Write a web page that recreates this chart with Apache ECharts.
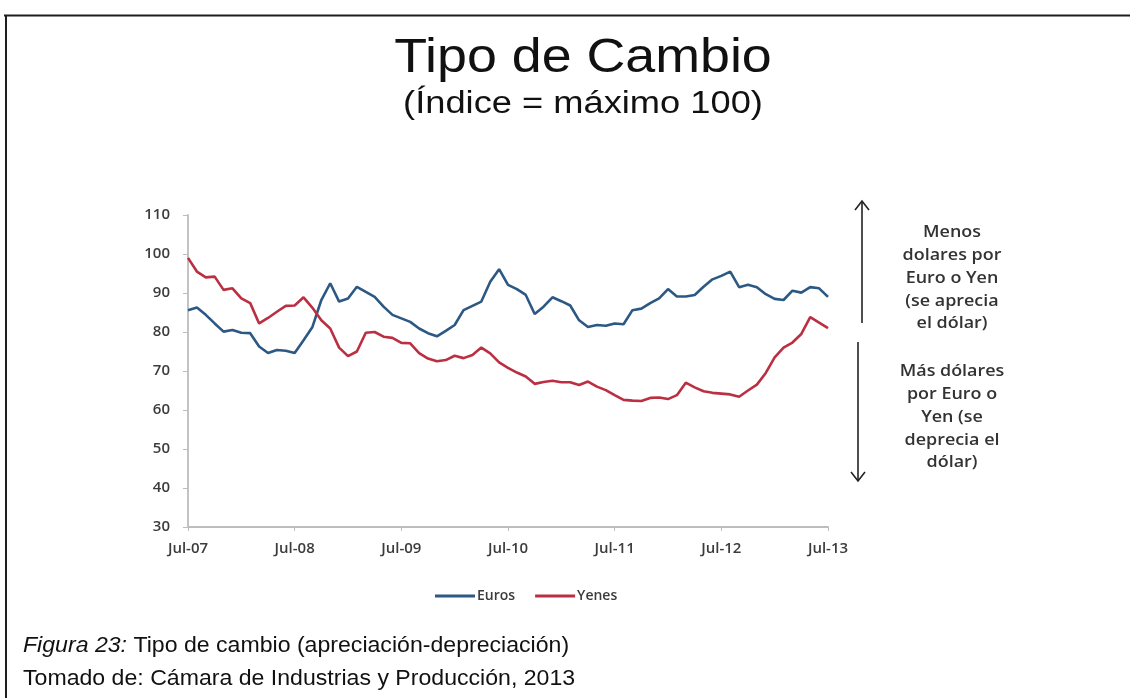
<!DOCTYPE html>
<html>
<head>
<meta charset="utf-8">
<title>Tipo de Cambio</title>
<script src="https://cdn.jsdelivr.net/npm/echarts@6/dist/echarts.min.js"></script>
<style>
  html, body { margin: 0; padding: 0; background: #fff; }
  #chart { width: 1130px; height: 698px; }
</style>
</head>
<body>
<div id="chart"></div>
<script>
// monthly series, Jul-07 .. Jul-13 (73 points)
const monthNames = ['Jul', 'Aug', 'Sep', 'Oct', 'Nov', 'Dec', 'Jan', 'Feb', 'Mar', 'Apr', 'May', 'Jun']
const startYear = 7
const pointCount = 73

const euros = [
  85.6, 86.3, 84.4, 82.2, 80.1, 80.5, 79.8, 79.7, 76.3, 74.6, 75.4, 75.2,
  74.6, 77.9, 81.3, 88.2, 92.5, 87.8, 88.6, 91.6, 90.3, 89.0, 86.5, 84.4,
  83.5, 82.6, 80.9, 79.7, 78.9, 80.3, 81.8, 85.6, 86.7, 87.8, 92.9, 96.1,
  92.1, 91.0, 89.5, 84.6, 86.5, 88.9, 87.9, 86.8, 83.0, 81.3, 81.8, 81.6,
  82.2, 82.0, 85.6, 86.0, 87.4, 88.6, 91.0, 89.1, 89.1, 89.5, 91.6, 93.5,
  94.4, 95.5, 91.5, 92.1, 91.5, 89.7, 88.5, 88.2, 90.6, 90.1, 91.5, 91.2,
  89.0
]

const yenes = [
  99.0, 95.5, 94.0, 94.2, 90.8, 91.2, 88.6, 87.4, 82.2, 83.6, 85.2, 86.7,
  86.8, 88.9, 86.2, 83.0, 80.9, 76.0, 73.8, 75.0, 79.8, 80.0, 78.8, 78.5,
  77.2, 77.1, 74.6, 73.2, 72.5, 72.8, 73.9, 73.3, 74.1, 76.0, 74.5, 72.2,
  70.8, 69.6, 68.6, 66.7, 67.2, 67.5, 67.1, 67.1, 66.4, 67.3, 66.0, 65.1,
  63.8, 62.6, 62.4, 62.3, 63.1, 63.2, 62.8, 63.8, 67.0, 65.8, 64.8, 64.4,
  64.2, 64.0, 63.4, 65.0, 66.5, 69.5, 73.5, 76.0, 77.3, 79.5, 83.8, 82.4,
  81.0
]

const seriesNames = ['Euros', 'Yenes']
const upNote = ['Menos', 'dolares por', 'Euro o Yen', '(se aprecia', 'el dólar)']
const downNote = ['Más dólares', 'por Euro o', 'Yen (se', 'deprecia el', 'dólar)']

const categories = []
for (let i = 0; i < pointCount; i++) {
  const yy = startYear + Math.floor((i + 6) / 12)
  categories.push(monthNames[i % 12] + '-' + String(yy).padStart(2, '0'))
}

const chart = echarts.init(document.getElementById('chart'), null, { renderer: 'canvas' })

const labelFont = { fontFamily: 'Open Sans', fontSize: 15, fontWeight: 600, color: '#3c3c3c' }
const noteStyle = { fontFamily: 'Open Sans', fontSize: 16, fontWeight: 600, fill: '#333', textAlign: 'center', lineHeight: 22.75 }
const arrowStyle = { stroke: '#222', lineWidth: 1.6, fill: 'none' }
const stretch = 1.12

chart.setOption({
  animation: false,
  backgroundColor: '#fff',
  grid: { left: 188, right: 302, top: 215, bottom: 171 },
  legend: {
    data: seriesNames,
    left: 430,
    top: 584,
    icon: 'rect',
    itemWidth: 40,
    itemHeight: 3,
    itemGap: 20,
    textStyle: { fontFamily: 'Open Sans', fontSize: 14, fontWeight: 600, color: '#3c3c3c', padding: [0, 0, 0, -3] },
  },
  xAxis: {
    type: 'category',
    data: categories,
    boundaryGap: false,
    axisLine: { lineStyle: { color: '#bdbdbd', width: 1.8 } },
    axisTick: { interval: 11, length: 4, lineStyle: { color: '#bdbdbd' } },
    axisLabel: { interval: 11, margin: 14, ...labelFont },
    splitLine: { show: false },
  },
  yAxis: {
    type: 'value',
    min: 30,
    max: 110,
    interval: 10,
    axisLine: { show: true, lineStyle: { color: '#bdbdbd', width: 1.8 } },
    axisTick: { show: true, length: 5, lineStyle: { color: '#bdbdbd' } },
    axisLabel: { margin: 18, ...labelFont },
    splitLine: { show: false },
  },
  series: [
    {
      name: seriesNames[0],
      type: 'line',
      data: euros,
      showSymbol: false,
      lineStyle: { color: '#2c5884', width: 2.6 },
      itemStyle: { color: '#2c5884' },
    },
    {
      name: seriesNames[1],
      type: 'line',
      data: yenes,
      showSymbol: false,
      lineStyle: { color: '#ba2f42', width: 2.6 },
      itemStyle: { color: '#ba2f42' },
    },
  ],
  graphic: [
    // frame
    { type: 'line', shape: { x1: 4, y1: 15.5, x2: 1130, y2: 15.5 }, style: { stroke: '#1e1e1e', lineWidth: 2 } },
    { type: 'line', shape: { x1: 6, y1: 15, x2: 6, y2: 698 }, style: { stroke: '#1e1e1e', lineWidth: 2 } },
    // titles
    { type: 'text', x: 583, y: 59, scaleX: stretch, style: { text: 'Tipo de Cambio', fontFamily: 'Liberation Sans', fontSize: 48, fill: '#111', textAlign: 'center', textVerticalAlign: 'middle' } },
    { type: 'text', x: 583, y: 104, scaleX: 1.17, style: { text: '(Índice = máximo 100)', fontFamily: 'Liberation Sans', fontSize: 31, fill: '#111', textAlign: 'center', textVerticalAlign: 'middle' } },
    // arrows
    { type: 'line', shape: { x1: 862, y1: 201, x2: 862, y2: 323 }, style: arrowStyle },
    { type: 'polyline', shape: { points: [[855, 210], [862, 201], [869, 210]] }, style: arrowStyle },
    { type: 'line', shape: { x1: 858, y1: 342, x2: 858, y2: 481 }, style: arrowStyle },
    { type: 'polyline', shape: { points: [[851, 472], [858, 481], [865, 472]] }, style: arrowStyle },
    // notes
    { type: 'text', x: 952, y: 221.5, scaleX: stretch, style: { ...noteStyle, text: upNote.join('\n') } },
    { type: 'text', x: 952, y: 360.5, scaleX: stretch, style: { ...noteStyle, text: downNote.join('\n') } },
    // caption
    {
      type: 'text', x: 23, y: 629, scaleX: 1.05,
      style: {
        text: '{i|Figura 23:} Tipo de cambio (apreciación-depreciación)\nTomado de: Cámara de Industrias y Producción, 2013',
        fontFamily: 'Liberation Sans', fontSize: 22, fill: '#111', lineHeight: 33,
        rich: { i: { fontFamily: 'Liberation Sans', fontStyle: 'italic', fontSize: 22, fill: '#111' } },
      },
    },
  ],
})
</script>
</body>
</html>
